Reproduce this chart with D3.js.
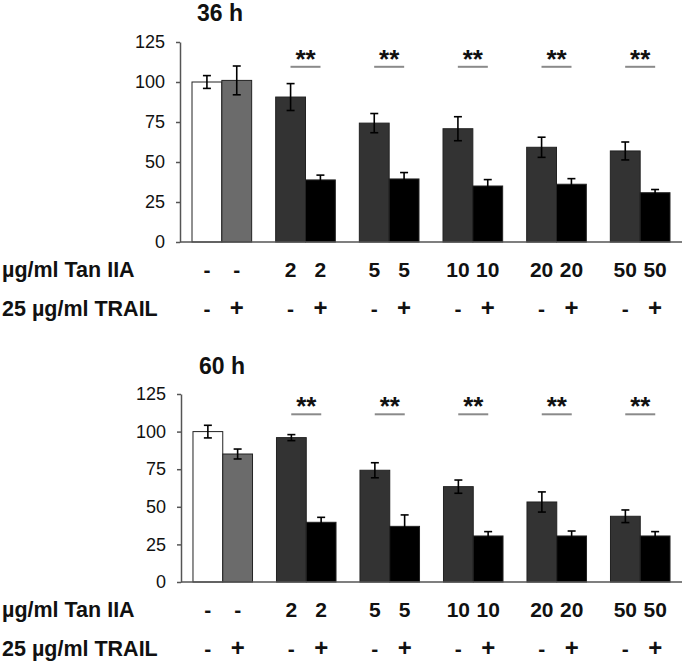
<!DOCTYPE html>
<html>
<head>
<meta charset="utf-8">
<script src="https://cdn.jsdelivr.net/npm/d3@7"></script>
<style>
  html, body { margin: 0; padding: 0; background: #fff; }
  svg { display: block; }
  text { font-family: Arial, "Liberation Sans", sans-serif; }
</style>
</head>
<body>
<svg id="chart" width="685" height="662"></svg>
<script>
// ---------- data ----------
const groups = ["ctrl", "2", "5", "10", "20", "50"];
const barsPerGroup = ["no TRAIL", "TRAIL"];
const tanLabels = ["-", "-", "2", "2", "5", "5", "10", "10", "20", "20", "50", "50"];
const trailLabels = ["-", "+", "-", "+", "-", "+", "-", "+", "-", "+", "-", "+"];
const values36 = [100, 101, 90.6, 38.8, 74.3, 39.4, 70.8, 35, 59.2, 36.1, 56.9, 30.8];
const errors36 = [4, 9, 8.4, 3, 6, 4, 7.5, 4, 6.3, 3.5, 5.6, 2];
const values60 = [100, 85.1, 96, 39.7, 74.3, 37, 63.4, 30.6, 53.2, 30.6, 43.7, 30.6];
const errors60 = [4.2, 3.3, 2, 3.3, 5, 7.6, 4.4, 2.9, 6.7, 3.3, 4.2, 2.9];
const yTicks = [0, 25, 50, 75, 100, 125];
const sigGroups = ["2", "5", "10", "20", "50"];
const sigLabel = "**";
const rowLabel1 = "µg/ml Tan IIA";
const rowLabel2 = "25 µg/ml TRAIL";
const panels = [
  { title: "36 h", values: values36, errors: errors36, sigLevel: 109.5, top: 42, bottom: 242, left: 180, titleX: 197, titleY: 21 },
  { title: "60 h", values: values60, errors: errors60, sigLevel: 111.5, top: 394, bottom: 582, left: 181, titleX: 199, titleY: 374 }
];
const barFill = (i) => i === 0 ? "#ffffff" : i === 1 ? "#6b6b6b" : (i % 2 === 0 ? "#333333" : "#000000");

// ---------- draw ----------
const svg = d3.select("#chart");
const right = 682;

panels.forEach(p => {
  const g = svg.append("g");
  const x0 = d3.scaleBand().domain(groups).range([p.left, right]).paddingInner(0.287).paddingOuter(0.1435);
  const x1 = d3.scaleBand().domain(barsPerGroup).range([0, x0.bandwidth()]);
  const y = d3.scaleLinear().domain([0, 125]).range([p.bottom, p.top]);

  const data = p.values.map((v, i) => ({
    v, e: p.errors[i], i,
    group: groups[Math.floor(i / 2)],
    sub: barsPerGroup[i % 2]
  }));
  const cx = d => x0(d.group) + x1(d.sub) + x1.bandwidth() / 2;

  // bars
  g.selectAll("rect.bar").data(data).join("rect")
    .attr("class", "bar")
    .attr("x", d => x0(d.group) + x1(d.sub))
    .attr("width", x1.bandwidth())
    .attr("y", d => y(d.v))
    .attr("height", d => y(0) - y(d.v))
    .attr("fill", d => barFill(d.i))
    .attr("stroke", "#222")
    .attr("stroke-width", 1);

  // error bars
  const eb = g.selectAll("g.err").data(data).join("g").attr("class", "err")
    .attr("stroke", "#000").attr("stroke-width", 1.6);
  eb.append("line")
    .attr("x1", cx).attr("x2", cx)
    .attr("y1", d => y(d.v + d.e)).attr("y2", d => y(d.v - d.e));
  eb.append("line")
    .attr("x1", d => cx(d) - 4).attr("x2", d => cx(d) + 4)
    .attr("y1", d => y(d.v + d.e)).attr("y2", d => y(d.v + d.e));
  eb.append("line")
    .attr("x1", d => cx(d) - 4).attr("x2", d => cx(d) + 4)
    .attr("y1", d => y(d.v - d.e)).attr("y2", d => y(d.v - d.e));

  // y axis
  const yAxis = d3.axisLeft(y).tickValues(yTicks).tickSize(4).tickSizeOuter(0).tickPadding(11);
  const ya = g.append("g").attr("transform", `translate(${p.left},0)`).call(yAxis);
  ya.select(".domain").attr("stroke", "#555").attr("stroke-width", 1.5);
  ya.selectAll(".tick line").attr("stroke", "#555").attr("stroke-width", 1.5);
  ya.selectAll(".tick text").attr("font-size", 18).attr("fill", "#111")
    .attr("font-family", "Arial, 'Liberation Sans', sans-serif");

  // x axis line
  g.append("line")
    .attr("x1", p.left).attr("x2", right)
    .attr("y1", y(0)).attr("y2", y(0))
    .attr("stroke", "#555").attr("stroke-width", 1.5);

  // title
  g.append("text").attr("x", p.titleX).attr("y", p.titleY)
    .attr("font-size", 23).attr("font-weight", "bold").attr("fill", "#111")
    .text(p.title);

  // significance markers
  const sig = g.selectAll("g.sig").data(sigGroups).join("g").attr("class", "sig");
  sig.append("line")
    .attr("x1", d => x0(d) + x0.bandwidth() / 2 - 15)
    .attr("x2", d => x0(d) + x0.bandwidth() / 2 + 15)
    .attr("y1", y(p.sigLevel)).attr("y2", y(p.sigLevel))
    .attr("stroke", "#8a8a8a").attr("stroke-width", 2);
  sig.append("text")
    .attr("x", d => x0(d) + x0.bandwidth() / 2)
    .attr("y", y(p.sigLevel) + 1)
    .attr("text-anchor", "middle")
    .attr("font-size", 26).attr("font-weight", "bold").attr("fill", "#111")
    .text(sigLabel);

  // condition rows
  const row1Y = y(0) + 35, row2Y = y(0) + 74;
  g.append("text").attr("x", 2).attr("y", row1Y)
    .attr("font-size", 21.5).attr("font-weight", "bold").attr("fill", "#111").text(rowLabel1);
  g.append("text").attr("x", 2).attr("y", row2Y)
    .attr("font-size", 21.5).attr("font-weight", "bold").attr("fill", "#111").text(rowLabel2);
  g.selectAll("text.tan").data(data).join("text").attr("class", "tan")
    .attr("x", cx).attr("y", row1Y).attr("text-anchor", "middle")
    .attr("font-size", 21).attr("font-weight", "bold").attr("fill", "#111")
    .text(d => tanLabels[d.i]);
  g.selectAll("text.trail").data(data).join("text").attr("class", "trail")
    .attr("x", cx).attr("y", row2Y).attr("text-anchor", "middle")
    .attr("font-size", d => trailLabels[d.i] === "+" ? 24 : 21).attr("font-weight", "bold").attr("fill", "#111")
    .text(d => trailLabels[d.i]);
});
</script>
</body>
</html>
